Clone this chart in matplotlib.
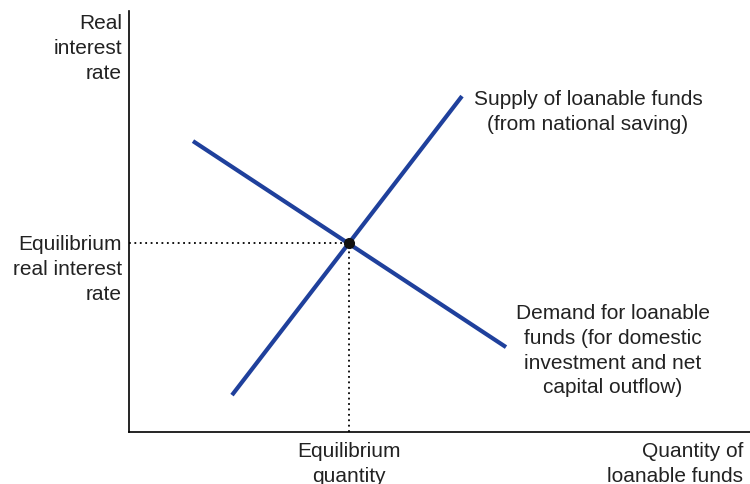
import matplotlib.pyplot as plt

plt.rcParams['font.family'] = ['Liberation Sans', 'DejaVu Sans']

# curve end points, in axis units (x: quantity, y: real interest rate)
supply_x = [103, 333]
supply_y = [37, 336]
demand_x = [64, 377]
demand_y = [291, 85]
eq_q = 220
eq_r = 189

blue = '#1f409c'

fig = plt.figure(figsize=(7.5, 4.85), dpi=100)
ax = fig.add_axes([0.172, 0.107, 0.828, 0.868])
ax.set_xlim(0, 621)
ax.set_ylim(0, 421)

ax.plot(supply_x, supply_y, color=blue, lw=3, solid_capstyle='butt')
ax.plot(demand_x, demand_y, color=blue, lw=3, solid_capstyle='butt')

# dotted guides to equilibrium
ax.plot([0, eq_q], [eq_r, eq_r], color='black', ls=(0, (1, 2)), lw=1.3)
ax.plot([eq_q, eq_q], [0, eq_r], color='black', ls=(0, (1, 2)), lw=1.3)
ax.plot(eq_q, eq_r, 'o', color='#111111', ms=7, zorder=5)

for s in ['top', 'right']:
    ax.spines[s].set_visible(False)
for s in ['left', 'bottom']:
    ax.spines[s].set_linewidth(1.2)
ax.set_xticks([])
ax.set_yticks([])

fs = 15
ls = 1.38
tc = '#222222'
ax.text(-7, 419, 'Real\ninterest\nrate', ha='right', va='top', fontsize=fs,
        color=tc, linespacing=ls)
ax.text(-7, eq_r + 9, 'Equilibrium\nreal interest\nrate', ha='right', va='top',
        fontsize=fs, color=tc, linespacing=ls)
ax.text(eq_q, -9, 'Equilibrium\nquantity', ha='center', va='top', fontsize=fs,
        color=tc, linespacing=ls)
ax.text(614, -9, 'Quantity of\nloanable funds', ha='right', va='top',
        fontsize=fs, color=tc, linespacing=ls)
ax.text(459, 343, 'Supply of loanable funds\n(from national saving)',
        ha='center', va='top', fontsize=fs, color=tc, linespacing=ls)
ax.text(484, 129, 'Demand for loanable\nfunds (for domestic\ninvestment and net\ncapital outflow)',
        ha='center', va='top', fontsize=fs, color=tc, linespacing=ls)

fig.savefig('out.png', dpi=100)
